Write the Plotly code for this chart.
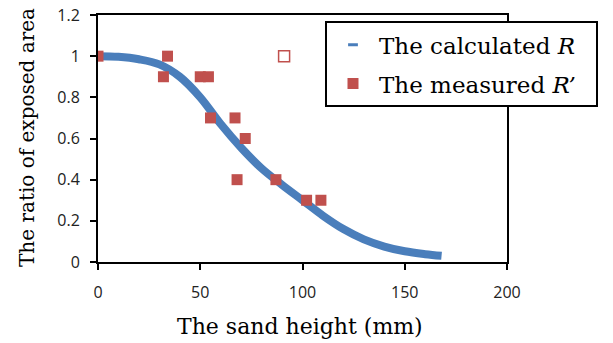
import plotly.graph_objects as go

# Calculated R curve
curve_x = [0, 10, 20, 30, 40, 50, 60, 70, 80, 90, 100, 110, 120, 130, 140, 150, 160, 168]
curve_r = [1.0, 0.997, 0.985, 0.96, 0.90, 0.80, 0.67, 0.555, 0.455, 0.375, 0.30, 0.225, 0.16, 0.11, 0.075, 0.052, 0.038, 0.03]

# Measured R'
meas_x = [0, 34, 32, 50, 54, 55, 67, 68, 72, 87, 102, 109]
meas_r = [1.0, 1.0, 0.9, 0.9, 0.9, 0.7, 0.7, 0.4, 0.6, 0.4, 0.3, 0.3]

# Hollow outlier
out_x = [91]
out_r = [1.0]

x_ticks = [0, 50, 100, 150, 200]
y_ticks = [0, 0.2, 0.4, 0.6, 0.8, 1, 1.2]

x_title = "The sand height (mm)"
y_title = "The ratio of exposed area"

BLUE = "#4A7EBB"
RED = "#C0504D"
PAD = "\u00a0\u00a0"

fig = go.Figure()
fig.add_trace(go.Scatter(x=curve_x, y=curve_r, mode="lines", line=dict(color=BLUE, width=8, shape="spline"),
                         showlegend=False))
fig.add_trace(go.Scatter(x=[None], y=[None], mode="markers", name="The calculated <i>R</i>" + PAD, legendgroup="a",
                         marker=dict(symbol="line-ew", size=7, line=dict(color=BLUE, width=3))))
fig.add_trace(go.Scatter(x=meas_x, y=meas_r, mode="markers", name="The measured <i>R’</i>" + PAD, legendgroup="b",
                         marker=dict(symbol="square", size=11, color=RED)))
fig.add_trace(go.Scatter(x=out_x, y=out_r, mode="markers", showlegend=False,
                         marker=dict(symbol="square-open", size=11, color=RED, line=dict(width=1.5))))

tickfont = dict(family="Open Sans", size=16, color="#222")
fig.update_layout(
    width=613, height=343,
    margin=dict(l=98, r=106, t=15, b=81),
    plot_bgcolor="white", paper_bgcolor="white",
    xaxis=dict(range=[0, 200], tickvals=x_ticks, showline=True, linecolor="black", linewidth=2, mirror=True,
               ticks="outside", ticklen=6, tickcolor="black", tickwidth=2, showgrid=False, zeroline=False,
               tickfont=tickfont, ticklabelstandoff=9, automargin=False),
    yaxis=dict(range=[0, 1.2], tickvals=y_ticks, showline=True, linecolor="black", linewidth=2, mirror=True,
               ticks="outside", ticklen=6, tickcolor="black", tickwidth=2, showgrid=False, zeroline=False,
               tickfont=tickfont, ticklabelstandoff=7, automargin=False),
    legend=dict(x=0.555, y=0.975, xanchor="left", yanchor="top", bgcolor="white", bordercolor="black",
                borderwidth=2, font=dict(family="DejaVu Serif", size=23, color="black"),
                tracegroupgap=6, itemwidth=42),
    annotations=[
        dict(text=x_title, xref="paper", yref="paper", x=0.494, y=-0.263, xanchor="center", yanchor="middle",
             showarrow=False, font=dict(family="DejaVu Serif", size=22, color="black")),
        dict(text=y_title, xref="paper", yref="paper", x=-0.1736, y=0.506, xanchor="center", yanchor="middle",
             textangle=-90, showarrow=False, font=dict(family="DejaVu Serif", size=20, color="black")),
    ],
)
fig.write_html("out.html")
